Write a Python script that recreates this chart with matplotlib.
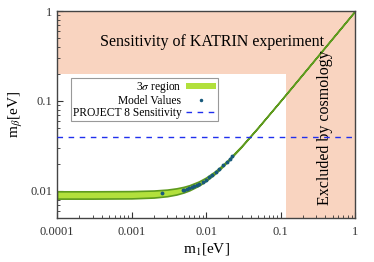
import matplotlib
matplotlib.use("Agg")
import matplotlib.pyplot as plt
from matplotlib.lines import Line2D
from matplotlib.patches import Patch

# 3-sigma band (m1 vs lower/upper m_beta)
band_m1 = [1e-4, 3e-4, 1e-3, 2e-3, 3e-3, 4e-3, 5e-3, 6e-3, 8e-3, 0.01, 0.013,
           0.016, 0.02, 0.03, 0.05, 0.1, 0.2, 0.5, 1.0]
band_low = [0.00821, 0.00821, 0.00826, 0.00844, 0.00873, 0.00912, 0.00960,
            0.01016, 0.01145, 0.01293, 0.01537, 0.01798, 0.02162, 0.03110,
            0.05067, 0.10034, 0.20017, 0.50007, 1.0]
band_high = [0.00990, 0.00990, 0.00995, 0.01010, 0.01034, 0.01068, 0.01109,
             0.01158, 0.01273, 0.01407, 0.01634, 0.01881, 0.02232, 0.03159,
             0.05097, 0.10049, 0.20024, 0.50010, 1.00005]

# model values
model_m1 = [0.0026, 0.0049, 0.0050, 0.0055, 0.0060, 0.0065, 0.0070, 0.0075,
            0.0080, 0.0090, 0.0100, 0.0110, 0.0120, 0.0135, 0.0150, 0.0170,
            0.0190, 0.0210, 0.0225]
model_mb = [0.0095, 0.0102, 0.01021, 0.01046, 0.01073, 0.01102, 0.01132,
            0.01164, 0.01197, 0.01266, 0.01339, 0.01415, 0.01494, 0.01617,
            0.01744, 0.01919, 0.02098, 0.02281, 0.02420]

project8 = 0.04
katrin = 0.2
cosmo = 0.12

plt.rcParams['font.family'] = ['Liberation Serif', 'DejaVu Serif']
plt.rcParams['mathtext.fontset'] = 'stix'

fig = plt.figure(figsize=(3.74, 2.62), dpi=100)
ax = fig.add_axes([57/374, 1 - 218/262, 298/374, 207/262])
ax.set_xscale('log')
ax.set_yscale('log')
ax.set_xlim(1e-4, 1)
ax.set_ylim(0.005, 1)

peach = '#f9d4c0'
ax.axhspan(katrin, 1, color=peach, lw=0, zorder=0)
ax.axvspan(cosmo, 1, color=peach, lw=0, zorder=0)

ax.fill_between(band_m1, band_low, band_high, facecolor='#b2e03c',
                edgecolor='#5e9a1e', lw=1.2, zorder=2)
ax.plot(model_m1, model_mb, 'o', ms=2.8, color='#185a7c', mec='none', zorder=3)
ax.axhline(project8, color='#2030ee', lw=1.0, ls=(0, (4, 4)), zorder=4)

ax.text(0.012, 0.45, 'Sensitivity of KATRIN experiment', fontsize=11.5,
        ha='center', va='center')
ax.text(0.40, 0.05, 'Excluded by cosmology', fontsize=11.5, rotation=90,
        ha='center', va='center')

ax.set_xlabel(r'm$_1$[eV]', fontsize=11, labelpad=2)
ax.set_ylabel(r'm$_\beta$[eV]', fontsize=11, labelpad=4)

ax.set_xticks([1e-4, 1e-3, 1e-2, 1e-1, 1])
ax.set_xticklabels(['0.0001', '0.001', '0.01', '0.1', '1'])
ax.set_yticks([0.01, 0.1, 1])
ax.set_yticklabels(['0.01', '0.1', '1'])
ax.tick_params(which='both', direction='in', labelsize=9, colors='#333333')
ax.tick_params(which='major', length=4)
ax.tick_params(which='minor', length=2)
ax.tick_params(axis='x', pad=6)
for s in ax.spines.values():
    s.set_color('#444444')
    s.set_linewidth(1.0)

handles = [Patch(facecolor='#b2e03c', edgecolor='none'),
           Line2D([], [], ls='none', marker='o', ms=1.5, color='#185a7c'),
           Line2D([], [], color='#2030ee', lw=1.0, ls=(0, (4, 4)))]
labels = [r'3$\sigma$ region', 'Model Values', 'PROJECT 8 Sensitivity']
leg = ax.legend(handles, labels, loc='upper left', bbox_to_anchor=(0.047, 0.675),
                markerfirst=False, fontsize=8.3, frameon=True, fancybox=False,
                edgecolor='#999999', framealpha=1, borderpad=0.15,
                labelspacing=0.0, handlelength=2.6, handleheight=0.5,
                handletextpad=0.4, borderaxespad=0)
leg.get_frame().set_linewidth(0.8)

fig.savefig('out.png', dpi=100)
